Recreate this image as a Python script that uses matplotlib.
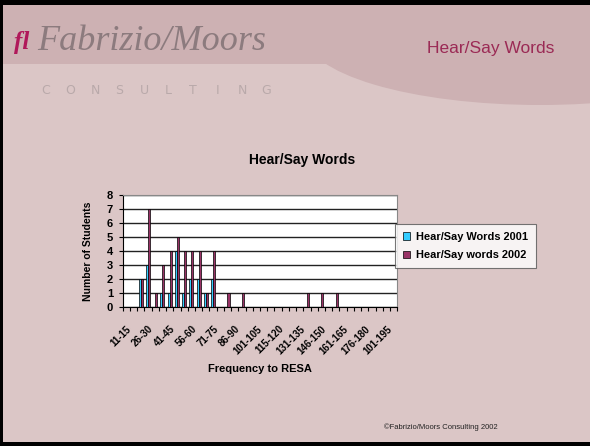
import matplotlib
matplotlib.use('Agg')
import matplotlib.pyplot as plt
from matplotlib.patches import Rectangle, Ellipse
from matplotlib.transforms import ScaledTranslation
import numpy as np

# category labels (every third one is shown on the axis)
categories = ['11-15', '16-20', '21-25', '26-30', '31-35', '36-40', '41-45', '46-50',
              '51-55', '56-60', '61-65', '66-70', '71-75', '76-80', '81-85', '86-90',
              '91-95', '96-100', '101-105', '106-110', '111-114', '115-120', '121-125',
              '126-130', '131-135', '136-140', '141-145', '146-150', '151-155', '156-160',
              '161-165', '166-170', '171-175', '176-180', '181-185', '186-190', '101-195',
              '196-200']
words_2001 = [0, 0, 2, 3, 0, 1, 1, 4, 1, 2, 2, 1, 2, 0, 0, 0, 0, 0, 0,
              0, 0, 0, 0, 0, 0, 0, 0, 0, 0, 0, 0, 0, 0, 0, 0, 0, 0, 0]
words_2002 = [0, 0, 2, 7, 1, 3, 4, 5, 4, 4, 4, 1, 4, 0, 1, 0, 1, 0, 0,
              0, 0, 0, 0, 0, 0, 1, 0, 1, 0, 1, 0, 0, 0, 0, 0, 0, 0, 0]
y_ticks = [0, 1, 2, 3, 4, 5, 6, 7, 8]
brand = 'CONSULTING'

W, H = 590, 446
plt.rcParams['font.family'] = ['Liberation Sans', 'DejaVu Sans']
fig = plt.figure(figsize=(W / 100, H / 100), dpi=100)
fig.patch.set_facecolor('#dbc6c6')


def px(x, y):
    return x / W, 1 - y / H


# slide background
hdr = '#cdb1b3'
fig.patches.append(Rectangle(px(0, 64), 1, 64 / H, transform=fig.transFigure,
                             facecolor=hdr, edgecolor='none', zorder=0))
fig.patches.append(Ellipse(px(540, 35), 470 / W, 140 / H, transform=fig.transFigure,
                           facecolor=hdr, edgecolor='none', zorder=0))
fig.patches.append(Rectangle(px(0, 5), 1, 5 / H, transform=fig.transFigure,
                             facecolor='black', edgecolor='none', zorder=1))
fig.patches.append(Rectangle(px(0, H), 3 / W, 1, transform=fig.transFigure,
                             facecolor='black', edgecolor='none', zorder=1))
fig.patches.append(Rectangle(px(0, H), 1, 4 / H, transform=fig.transFigure,
                             facecolor='black', edgecolor='none', zorder=1))

# header texts
fig.text(*px(14, 42), 'fl', color='#b0185a', fontsize=18, fontweight='bold',
         family='Liberation Serif', style='italic', va='center', ha='left')
fig.text(*px(37, 42), 'Fabrizio/Moors', color='#8c7b7e', fontsize=26,
         family='Liberation Serif', style='italic', va='center', ha='left')
for i, ch in enumerate(brand):
    fig.text(*px(46 + i * 24.5, 90), ch, color='#b9a9aa', fontsize=9,
             va='center', ha='center', family='DejaVu Sans')
fig.text(*px(491, 49), 'Hear/Say Words', color='#9b2a55', fontsize=12.5,
         va='center', ha='center')
fig.text(*px(384, 427), '\u00a9Fabrizio/Moors Consulting 2002', color='#222222',
         fontsize=5.5, va='center', ha='left')

# chart
l, b = px(122.7, 307.2)
r, t = px(397.3, 194.7)
ax = fig.add_axes([l, b, r - l, t - b])
x = np.arange(len(categories))
bw = 0.28
ax.bar(x - bw / 2, words_2001, width=bw, color='#33ccff', edgecolor='black',
       linewidth=0.5, label='Hear/Say Words 2001', zorder=3)
ax.bar(x + bw / 2, words_2002, width=bw, color='#993366', edgecolor='black',
       linewidth=0.5, label='Hear/Say words 2002', zorder=3)
ax.set_facecolor('white')
ax.set_xlim(-0.5, len(categories) - 0.5)
ax.set_ylim(0, 8)
ax.set_yticks(y_ticks)
ax.set_yticklabels([str(v) for v in y_ticks], fontsize=8, fontweight='bold')
ax.grid(axis='y', color='#222222', linewidth=1.0, zorder=1)
ax.set_xticks(np.arange(len(categories) + 1) - 0.5)
ax.set_xticklabels([])
ax.set_xticks(x[::3], minor=True)
ax.set_xticklabels(categories[::3], minor=True, rotation=45, ha='right',
                   rotation_mode='anchor', fontsize=7, fontweight='bold')
shift = ScaledTranslation(-4 / 100, 0, fig.dpi_scale_trans)
for lbl in ax.get_xticklabels(minor=True):
    lbl.set_transform(lbl.get_transform() + shift)
ax.tick_params(axis='x', which='major', length=3, width=0.8, direction='out')
ax.tick_params(axis='x', which='minor', length=0, pad=12)
ax.tick_params(axis='y', length=3, width=0.8, pad=4)
for s in ['top', 'right']:
    ax.spines[s].set_color('#888888')
for s in ['left', 'bottom']:
    ax.spines[s].set_color('black')

fig.text(*px(260, 369), 'Frequency to RESA', fontsize=8, fontweight='bold',
         ha='center', va='center')
fig.text(*px(88, 251), 'Number of Students', fontsize=7.5, fontweight='bold',
         ha='center', va='center', rotation=90)
fig.text(*px(302, 160), 'Hear/Say Words', fontsize=10, fontweight='bold',
         ha='center', va='center')

leg = ax.legend(loc='upper left', bbox_to_anchor=px(395, 224),
                bbox_transform=fig.transFigure, prop={'size': 7.9, 'weight': 'bold'},
                frameon=True, fancybox=False, shadow=False, borderpad=0.7,
                handlelength=0.7, handleheight=0.7, handletextpad=0.5,
                labelspacing=0.8, borderaxespad=0)
leg.get_frame().set_edgecolor('#555555')
leg.get_frame().set_linewidth(0.8)

fig.savefig('out.png', dpi=100, facecolor=fig.get_facecolor())
